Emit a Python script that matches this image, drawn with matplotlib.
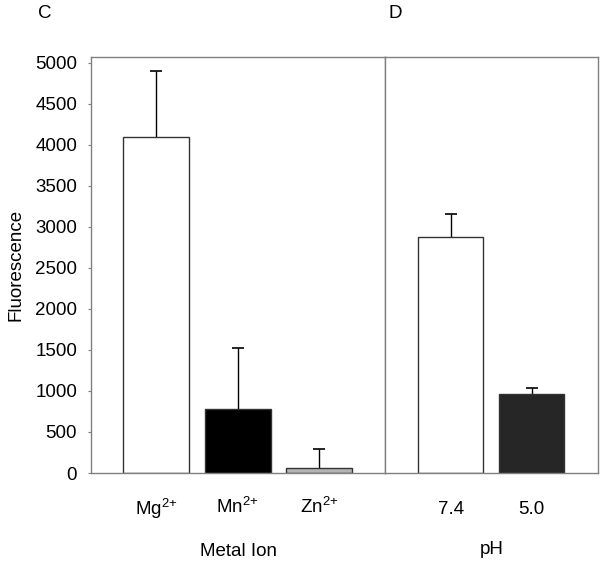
import matplotlib
matplotlib.use("Agg")
import matplotlib.pyplot as plt

plt.rcParams['font.family'] = ['Liberation Sans', 'DejaVu Sans']
plt.rcParams['mathtext.fontset'] = 'custom'
plt.rcParams['mathtext.rm'] = 'Liberation Sans'
plt.rcParams['mathtext.it'] = 'Liberation Sans'

metal_labels = ['Mg$^{2{+}}$', 'Mn$^{2{+}}$', 'Zn$^{2{+}}$']
metal_values = [4090, 780, 60]
metal_errors = [810, 740, 230]
metal_colors = ['white', 'black', '#b4b4b4']

ph_labels = ['7.4', '5.0']
ph_values = [2880, 960]
ph_errors = [280, 75]
ph_colors = ['white', '#262626']

yticks = [0, 500, 1000, 1500, 2000, 2500, 3000, 3500, 4000, 4500, 5000]

W, H = 601, 566
fig = plt.figure(figsize=(W/100, H/100), dpi=100)

frame = '#808080'
fs = 13.5
y0, y1 = 473, 57
axL = fig.add_axes([91/W, 1 - y0/H, (385-91)/W, (y0-y1)/H])
axR = fig.add_axes([385/W, 1 - y0/H, (598-385)/W, (y0-y1)/H])

ymax = 5070
for ax, labels, vals, errs, cols, xl, tpad in [
    (axL, metal_labels, metal_values, metal_errors, metal_colors, (-0.8, 2.81), 17),
    (axR, ph_labels, ph_values, ph_errors, ph_colors, (-0.81, 1.82), 20),
]:
    x = list(range(len(vals)))
    tops = [v + e for v, e in zip(vals, errs)]
    ax.vlines(x, vals, tops, colors='black', linewidth=1.0, zorder=1)
    ax.plot(x, tops, linestyle='none', marker='_', markersize=8,
            markeredgewidth=1.2, color='black', zorder=1)
    ax.bar(x, vals, width=0.81, color=cols, edgecolor='#333333', linewidth=1.0, zorder=2)
    ax.set_xlim(*xl)
    ax.set_ylim(0, ymax)
    ax.set_xticks(x)
    ax.set_xticklabels(labels, fontsize=fs)
    ax.tick_params(axis='x', length=0, pad=tpad)
    for s in ax.spines.values():
        s.set_color(frame)
        s.set_linewidth(1.0)

axL.set_yticks(yticks)
axL.set_yticklabels([str(v) for v in yticks], fontsize=fs)
axL.tick_params(axis='y', length=2, color=frame, pad=8)
axR.set_yticks([])

axL.set_ylabel('Fluorescence', fontsize=fs, labelpad=8)
axL.set_xlabel('Metal Ion', fontsize=fs, labelpad=16)
axR.set_xlabel('pH', fontsize=fs, labelpad=17)

fig.text(38/W, 1 - 14/H, 'C', fontsize=fs, va='center', ha='left')
fig.text(388/W, 1 - 14/H, 'D', fontsize=fs, va='center', ha='left')

fig.savefig('out.png', dpi=100)
